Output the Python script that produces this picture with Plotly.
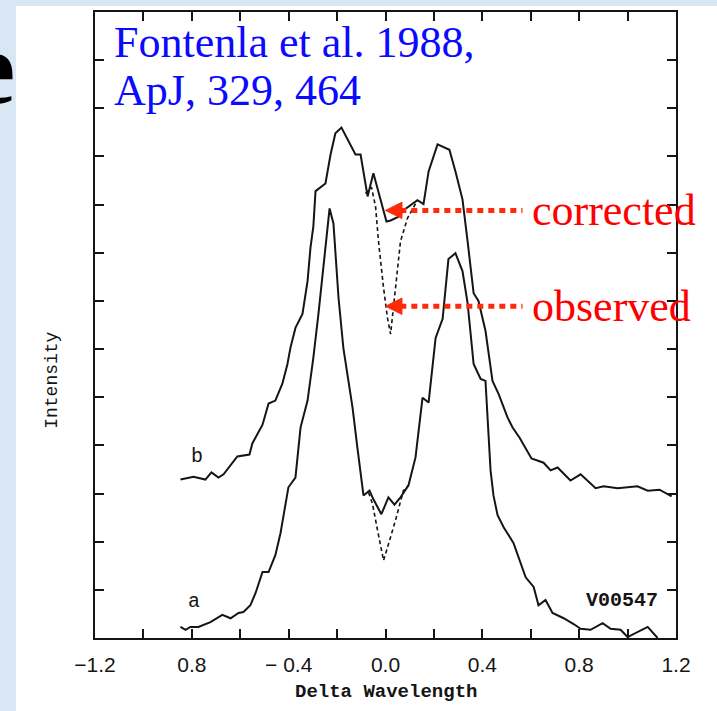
import plotly.graph_objects as go

# ---------------- data ----------------
b_x = [-0.847, -0.826, -0.793, -0.744, -0.719, -0.690, -0.669, -0.612, -0.562, -0.550,
       -0.529, -0.508, -0.483, -0.455, -0.426, -0.405, -0.393, -0.372, -0.343, -0.322,
       -0.310, -0.298, -0.289, -0.248, -0.227, -0.207, -0.182, -0.136, -0.124, -0.103,
       -0.083, -0.074, -0.050, -0.021, 0.004, 0.021, 0.050, 0.079, 0.132, 0.157,
       0.178, 0.215, 0.264, 0.289, 0.318, 0.339, 0.364, 0.384, 0.413, 0.442,
       0.467, 0.504, 0.525, 0.554, 0.603, 0.653, 0.682, 0.711, 0.764, 0.806,
       0.868, 0.901, 0.959, 1.041, 1.083, 1.132, 1.182]
b_y = [3.29, 3.31, 3.35, 3.29, 3.44, 3.33, 3.40, 3.77, 3.81, 4.04,
       4.24, 4.43, 4.87, 4.93, 5.28, 5.69, 6.02, 6.44, 6.73, 7.41,
       8.10, 8.55, 9.28, 9.44, 10.04, 10.48, 10.60, 10.14, 10.04, 10.04,
       9.38, 9.17, 9.65, 9.09, 8.65, 8.67, 8.74, 8.90, 9.09, 9.01,
       9.69, 10.25, 10.14, 9.69, 9.11, 8.24, 7.16, 7.00, 6.38, 5.34,
       5.07, 4.58, 4.37, 4.16, 3.73, 3.64, 3.48, 3.54, 3.27, 3.40,
       3.11, 3.15, 3.11, 3.15, 3.06, 3.08, 2.94]

b_obs_x = [-0.083, -0.058, -0.041, -0.029, -0.008, 0.008, 0.021, 0.041, 0.062, 0.091, 0.132]
b_obs_y = [9.23, 9.36, 8.96, 8.24, 7.27, 6.65, 6.31, 7.20, 8.24, 8.72, 9.09]

a_x = [-0.847, -0.826, -0.806, -0.773, -0.723, -0.674, -0.640, -0.607, -0.587, -0.558,
       -0.537, -0.508, -0.483, -0.455, -0.434, -0.401, -0.372, -0.351, -0.322, -0.298,
       -0.277, -0.256, -0.240, -0.231, -0.215, -0.194, -0.174, -0.136, -0.116, -0.091,
       -0.066, -0.050, -0.017, 0.012, 0.037, 0.062, 0.095, 0.124, 0.153, 0.178,
       0.207, 0.236, 0.260, 0.289, 0.318, 0.339, 0.364, 0.393, 0.413, 0.421,
       0.434, 0.446, 0.463, 0.488, 0.529, 0.579, 0.612, 0.632, 0.661, 0.690,
       0.736, 0.777, 0.806, 0.847, 0.897, 0.930, 0.971, 1.000, 1.083, 1.124]
a_y = [0.23, 0.17, 0.23, 0.23, 0.33, 0.48, 0.41, 0.52, 0.54, 0.68,
       0.93, 1.37, 1.37, 1.72, 2.17, 3.13, 3.33, 4.37, 4.93, 5.82,
       6.73, 7.76, 8.45, 8.92, 8.61, 7.06, 6.02, 4.78, 3.95, 2.96,
       3.06, 2.88, 2.57, 2.92, 2.77, 2.92, 3.17, 3.75, 4.99, 4.89,
       6.23, 6.63, 7.87, 7.99, 7.62, 6.96, 5.69, 5.38, 5.34, 4.51,
       3.48, 2.96, 2.55, 2.30, 1.97, 1.26, 1.06, 0.68, 0.79, 0.52,
       0.41, 0.29, 0.19, 0.17, 0.31, 0.19, 0.17, 0.02, 0.23, 0.00]

a_obs_x = [-0.070, -0.054, -0.033, -0.008, 0.017, 0.041, 0.074, 0.095]
a_obs_y = [3.02, 2.79, 2.24, 1.61, 2.03, 2.44, 3.06, 3.17]

x_tickvals = [-1.2, -1.0, -0.8, -0.6, -0.4, -0.2, 0.0, 0.2, 0.4, 0.6, 0.8, 1.0, 1.2]
x_ticktext = ["\u22121.2", "", "0.8", "", "\u2212 0.4", "", "0.0", "", "0.4", "", "0.8", "", "1.2"]

arrow_labels = ["corrected", "observed"]
arrow_y = [8.88, 6.89]
arrow_tip_x = 0.0
arrow_tail_x = 0.566

# ---------------- layout geometry ----------------
W, H = 717, 711
ML, MR, MT, MB = 95, 41, 10, 73
PW, PH = W - ML - MR, H - MT - MB


def px(x):
    return (x - ML) / PW


def py(y):
    return (H - MB - y) / PH


INK = "#151515"
fig = go.Figure()

line_solid = dict(color=INK, width=2)
line_dash = dict(color=INK, width=1.6, dash="4px,3px")

fig.add_trace(go.Scatter(x=b_obs_x, y=b_obs_y, mode="lines", line=line_dash, hoverinfo="skip"))
fig.add_trace(go.Scatter(x=a_obs_x, y=a_obs_y, mode="lines", line=line_dash, hoverinfo="skip"))
fig.add_trace(go.Scatter(x=b_x, y=b_y, mode="lines", line=line_solid, name="b"))
fig.add_trace(go.Scatter(x=a_x, y=a_y, mode="lines", line=line_solid, name="a"))

shapes = []
# white page region over light-blue slide background
shapes.append(dict(type="rect", xref="paper", yref="paper", layer="below",
                   x0=px(16), x1=px(W + 5), y0=py(4), y1=py(H + 5),
                   fillcolor="white", line=dict(width=0)))

RED = "#ff2a0a"
head_len = 0.068
head_half = 0.17
for yv in arrow_y:
    shapes.append(dict(type="line", xref="x", yref="y",
                       x0=arrow_tip_x + head_len * 0.9, x1=arrow_tail_x, y0=yv, y1=yv,
                       line=dict(color=RED, width=5, dash="6px,5px")))
    shapes.append(dict(type="path", xref="x", yref="y",
                       path=f"M {arrow_tip_x},{yv} L {arrow_tip_x + head_len},{yv + head_half} "
                            f"L {arrow_tip_x + head_len},{yv - head_half} Z",
                       fillcolor=RED, line=dict(color=RED, width=1)))

annotations = []
# big partial glyph of the slide title at far left
annotations.append(dict(xref="paper", yref="paper", x=px(17), y=py(66),
                        xanchor="right", yanchor="middle", showarrow=False,
                        text="<b>e</b>", font=dict(family="Liberation Serif", size=104, color="black")))
# citation
annotations.append(dict(xref="paper", yref="paper", x=px(112), y=py(41),
                        xanchor="left", yanchor="middle", showarrow=False,
                        text="Fontenla et al. 1988,",
                        font=dict(family="Liberation Serif", size=44, color="#0a0aff")))
annotations.append(dict(xref="paper", yref="paper", x=px(112), y=py(89),
                        xanchor="left", yanchor="middle", showarrow=False,
                        text="ApJ, 329, 464",
                        font=dict(family="Liberation Serif", size=44, color="#0a0aff")))
# arrow labels
for lab, yv in zip(arrow_labels, arrow_y):
    annotations.append(dict(xref="paper", yref="y", x=px(530), y=yv,
                            xanchor="left", yanchor="middle", showarrow=False,
                            text=lab, font=dict(family="Liberation Serif", size=44, color="#ff0000")))
# curve labels
annotations.append(dict(x=-0.777, y=3.77, xref="x", yref="y", showarrow=False, text="b",
                        xanchor="center", yanchor="middle",
                        font=dict(family="Liberation Mono", size=20, color=INK)))
annotations.append(dict(x=-0.793, y=0.75, xref="x", yref="y", showarrow=False, text="a",
                        xanchor="center", yanchor="middle",
                        font=dict(family="Liberation Mono", size=20, color=INK)))
annotations.append(dict(x=0.975, y=0.77, xref="x", yref="y", showarrow=False, text="<b>V00547</b>",
                        xanchor="center", yanchor="middle",
                        font=dict(family="Liberation Mono", size=20, color=INK)))
# axis titles
annotations.append(dict(xref="paper", yref="paper", x=px(52), y=py(380), showarrow=False,
                        xanchor="center", yanchor="middle",
                        text="Intensity", textangle=-90,
                        font=dict(family="Liberation Mono", size=18, color=INK)))
annotations.append(dict(xref="paper", yref="paper", x=px(386), y=py(692), showarrow=False,
                        xanchor="center", yanchor="middle",
                        text="<b>Delta Wavelength</b>",
                        font=dict(family="Liberation Mono", size=19, color=INK)))

fig.update_layout(
    width=W, height=H,
    margin=dict(l=ML, r=MR, t=MT, b=MB, pad=0),
    paper_bgcolor="#d9e6f3",
    plot_bgcolor="white",
    showlegend=False,
    shapes=shapes,
    annotations=annotations,
    xaxis=dict(range=[-1.2, 1.2], showgrid=False, zeroline=False,
               showline=True, linecolor=INK, linewidth=2, mirror="ticks",
               ticks="inside", ticklen=9, tickwidth=1.6, tickcolor=INK,
               tickmode="array", tickvals=x_tickvals, ticktext=x_ticktext,
               ticklabelstandoff=7,
               tickfont=dict(family="Liberation Sans", size=21, color=INK)),
    yaxis=dict(range=[0, 13], showgrid=False, zeroline=False,
               showline=True, linecolor=INK, linewidth=2, mirror="ticks",
               ticks="inside", ticklen=9, tickwidth=1.6, tickcolor=INK,
               tick0=0, dtick=1, showticklabels=False),
)

fig.write_html("out.html")
